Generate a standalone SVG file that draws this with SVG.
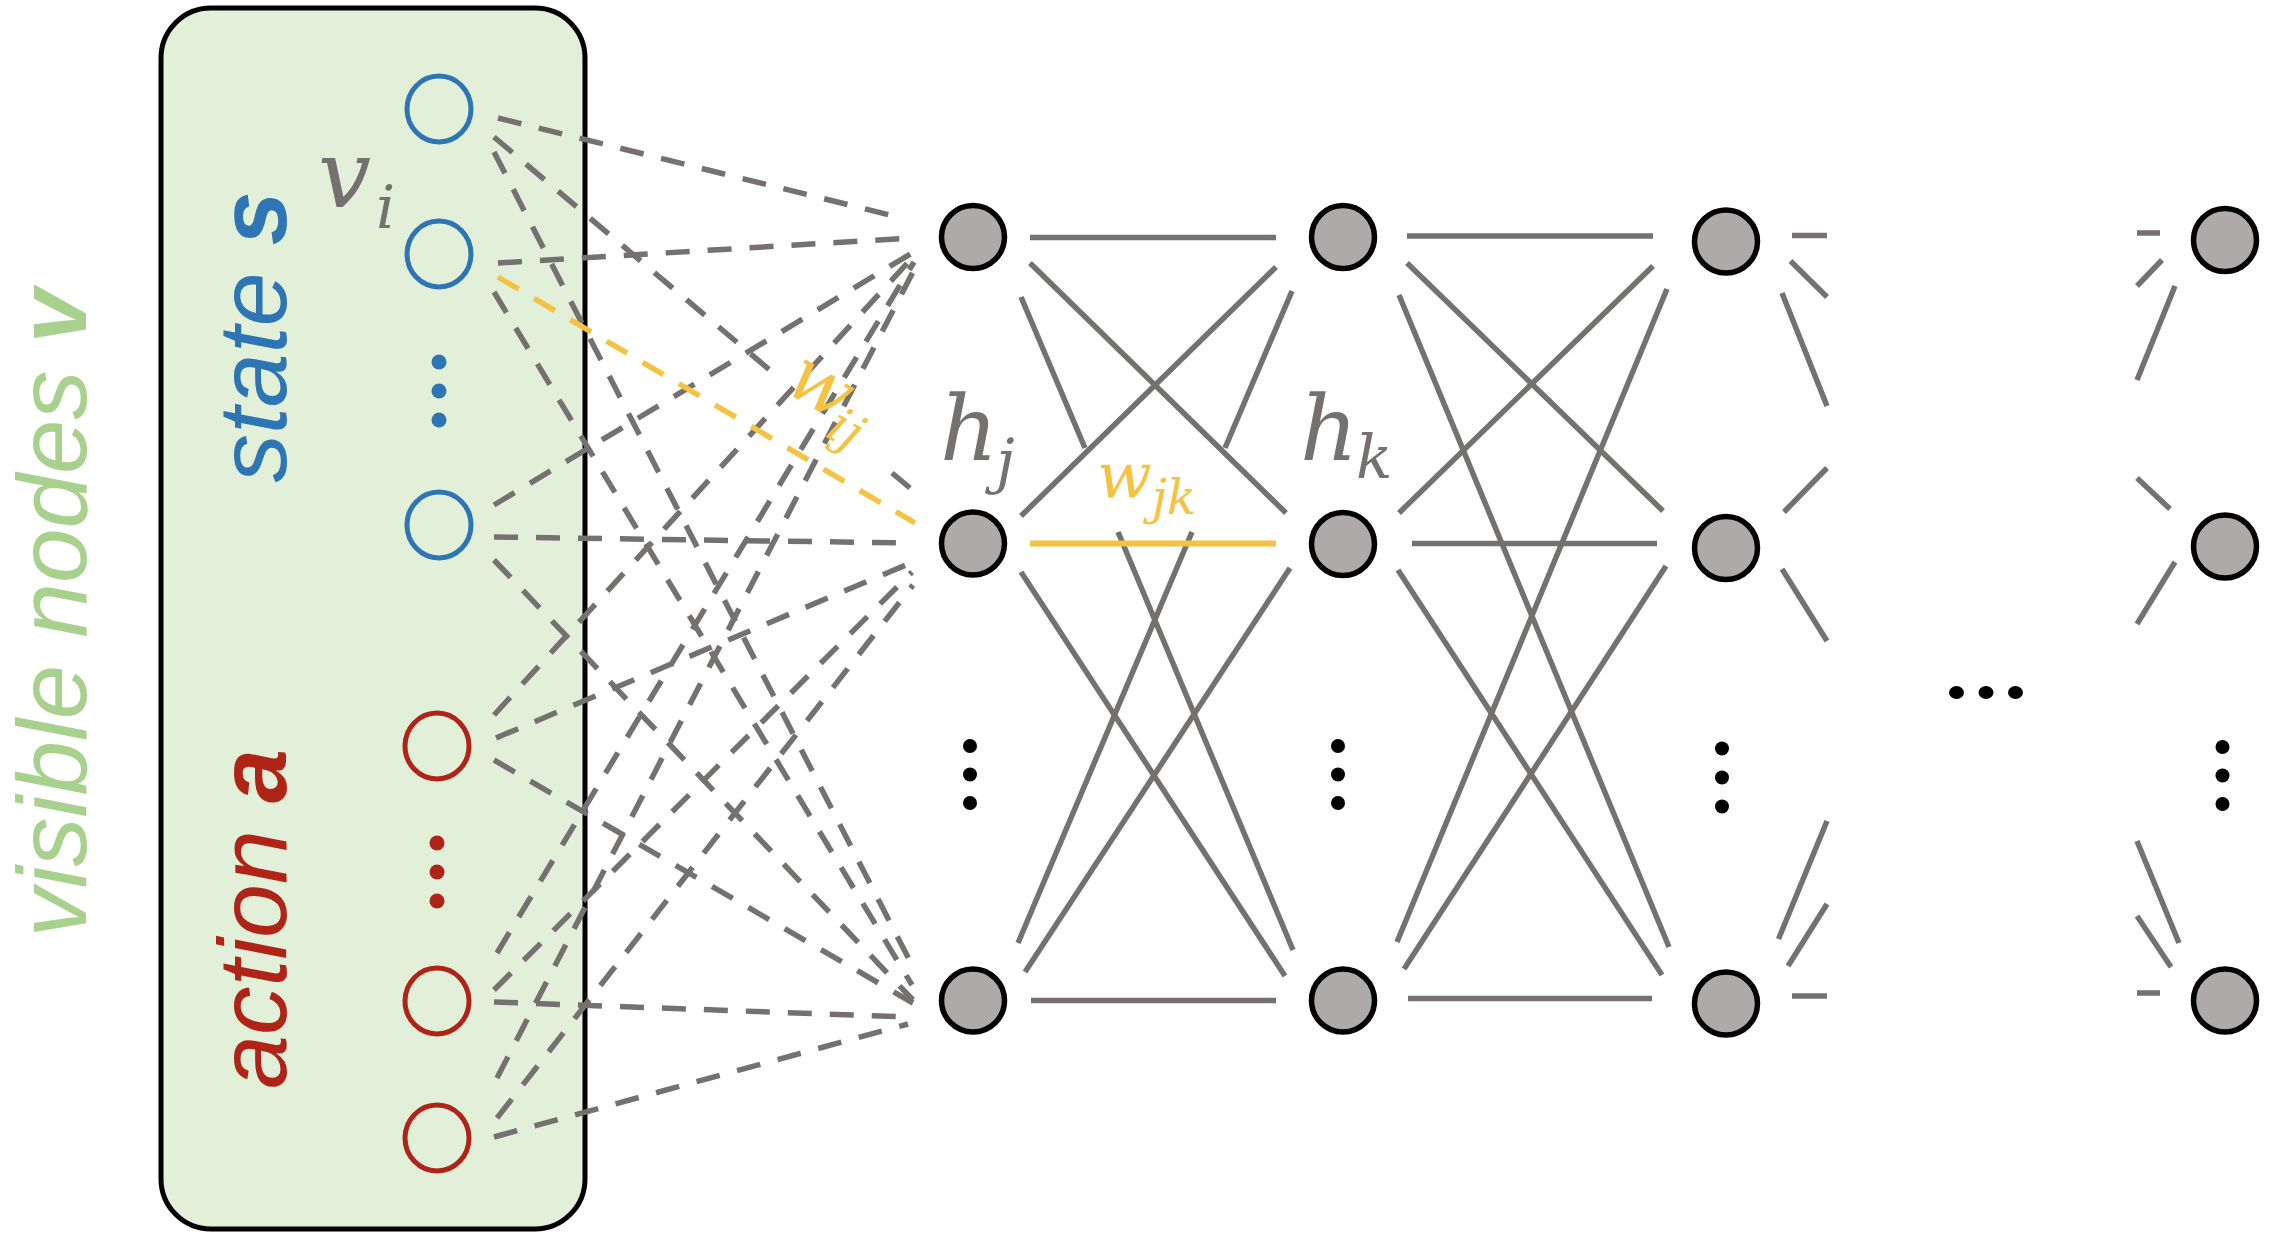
<svg xmlns="http://www.w3.org/2000/svg" width="2276" height="1238" viewBox="0 0 2276 1238">
<style>
.dash{stroke:#767171;stroke-width:5.5;stroke-dasharray:24 18;fill:none}
.ydash{stroke:#f5c242;stroke-width:5.5;stroke-dasharray:24 18;fill:none}
.solid{stroke:#767171;stroke-width:5.5;fill:none}
.ysolid{stroke:#f5c242;stroke-width:6;fill:none}
.hid{fill:#aeaaaa;stroke:#000;stroke-width:5.5}
.vs{fill:none;stroke:#2e75b6;stroke-width:5}
.va{fill:none;stroke:#b02418;stroke-width:5}
.math{font-family:"DejaVu Serif","Liberation Serif",serif;font-style:italic}
.lab{font-family:"Liberation Sans",Arial,sans-serif;font-style:italic}
</style>
<rect x="0" y="0" width="2276" height="1238" fill="#ffffff"/>
<g id="visible-box">
<rect x="161" y="8" width="424" height="1221" rx="50" fill="#e2efd9" stroke="#000" stroke-width="5"/>
</g>
<g id="label-visible">
<text class="lab" transform="translate(86,613) rotate(-90)" text-anchor="middle" font-size="98" fill="#a9d18e">visible nodes <tspan font-weight="bold">v</tspan></text>
</g>
<g id="label-state">
<text class="lab" transform="translate(286,337) rotate(-90)" text-anchor="middle" font-size="97" fill="#2e75b6">state <tspan font-weight="bold">s</tspan></text>
</g>
<g id="label-action">
<text class="lab" transform="translate(286,919) rotate(-90)" text-anchor="middle" font-size="97" fill="#b02418">action <tspan font-weight="bold">a</tspan></text>
</g>
<g id="connectors">
<line class="dash" x1="498" y1="118" x2="902" y2="218"/>
<line class="dash" x1="494" y1="137" x2="778" y2="377"/>
<line class="dash" x1="892" y1="473" x2="910" y2="488"/>
<line class="dash" x1="494" y1="152" x2="913" y2="967"/>
<line class="dash" x1="498" y1="263" x2="912" y2="238"/>
<line class="dash" x1="494" y1="292" x2="912" y2="985"/>
<line class="dash" x1="494" y1="505" x2="912" y2="253"/>
<line class="dash" x1="494" y1="537" x2="908" y2="543"/>
<line class="dash" x1="494" y1="560" x2="913" y2="1000"/>
<line class="dash" x1="494" y1="715" x2="912" y2="258"/>
<line class="dash" x1="496" y1="738" x2="913" y2="562"/>
<line class="dash" x1="494" y1="760" x2="913" y2="1003"/>
<line class="dash" x1="497" y1="953" x2="914" y2="262"/>
<line class="dash" x1="494" y1="990" x2="912" y2="572"/>
<line class="dash" x1="494" y1="1002" x2="908" y2="1017"/>
<line class="dash" x1="497" y1="1078" x2="915" y2="268"/>
<line class="dash" x1="497" y1="1118" x2="913" y2="585"/>
<line class="dash" x1="494" y1="1137" x2="908" y2="1024"/>
<line class="ydash" x1="498" y1="277" x2="915" y2="523"/>
<line class="solid" x1="1030" y1="237.5" x2="1276" y2="237.5"/>
<line class="solid" x1="1030" y1="263" x2="1286" y2="513"/>
<line class="solid" x1="1276" y1="267" x2="1021" y2="516"/>
<line class="solid" x1="1021" y1="297" x2="1085" y2="448"/>
<line class="solid" x1="1118" y1="532" x2="1293" y2="950"/>
<line class="solid" x1="1292" y1="291" x2="1225" y2="448"/>
<line class="solid" x1="1192" y1="532" x2="1018" y2="943"/>
<line class="solid" x1="1021" y1="572" x2="1285" y2="976"/>
<line class="solid" x1="1290" y1="568" x2="1025" y2="972"/>
<line class="solid" x1="1031" y1="1000.5" x2="1276" y2="1000.5"/>
<line class="ysolid" x1="1030" y1="543.5" x2="1276" y2="543.5"/>
<line class="solid" x1="1407" y1="236" x2="1653" y2="236"/>
<line class="solid" x1="1407" y1="263" x2="1663" y2="511"/>
<line class="solid" x1="1653" y1="266" x2="1399" y2="513"/>
<line class="solid" x1="1399" y1="295" x2="1669" y2="947"/>
<line class="solid" x1="1667" y1="289" x2="1397" y2="942"/>
<line class="solid" x1="1412" y1="543.5" x2="1657" y2="543.5"/>
<line class="solid" x1="1398" y1="570" x2="1662" y2="975"/>
<line class="solid" x1="1666" y1="566" x2="1404" y2="969"/>
<line class="solid" x1="1408" y1="998.5" x2="1652" y2="998.5"/>
<line class="solid" x1="1792" y1="235.5" x2="1827" y2="235.5"/>
<line class="solid" x1="1790.5" y1="261" x2="1827" y2="297"/>
<line class="solid" x1="1782" y1="293" x2="1827" y2="406"/>
<line class="solid" x1="1784" y1="512" x2="1827" y2="468"/>
<line class="solid" x1="1782" y1="569" x2="1827" y2="641"/>
<line class="solid" x1="1778.5" y1="939" x2="1827" y2="821"/>
<line class="solid" x1="1788" y1="966" x2="1827" y2="904"/>
<line class="solid" x1="1792" y1="996" x2="1827" y2="996"/>
<line class="solid" x1="2137" y1="233" x2="2160" y2="233"/>
<line class="solid" x1="2137" y1="286" x2="2162" y2="260"/>
<line class="solid" x1="2137" y1="380" x2="2175" y2="286"/>
<line class="solid" x1="2137" y1="478" x2="2170" y2="509"/>
<line class="solid" x1="2137" y1="624" x2="2175" y2="562"/>
<line class="solid" x1="2137" y1="841" x2="2179" y2="943"/>
<line class="solid" x1="2137" y1="916" x2="2171" y2="967"/>
<line class="solid" x1="2137" y1="993" x2="2160" y2="993"/>
</g>
<g id="visible-state-nodes">
<ellipse class="vs" cx="439" cy="109" rx="32" ry="33"/>
<ellipse class="vs" cx="439" cy="254" rx="32" ry="33"/>
<ellipse class="vs" cx="439" cy="525" rx="32" ry="33"/>
<circle cx="439" cy="362" r="7.5" fill="#2e75b6"/>
<circle cx="439" cy="391" r="7.5" fill="#2e75b6"/>
<circle cx="439" cy="420" r="7.5" fill="#2e75b6"/>
</g>
<g id="visible-action-nodes">
<ellipse class="va" cx="437" cy="746" rx="32" ry="33"/>
<ellipse class="va" cx="437" cy="1001" rx="32" ry="33"/>
<ellipse class="va" cx="437" cy="1138" rx="32" ry="33"/>
<circle cx="437" cy="843" r="7.5" fill="#b02418"/>
<circle cx="437" cy="872" r="7.5" fill="#b02418"/>
<circle cx="437" cy="901" r="7.5" fill="#b02418"/>
</g>
<g id="hidden-layer-1">
<circle class="hid" cx="973" cy="237" r="31.5"/>
<circle class="hid" cx="973" cy="543.5" r="31.5"/>
<circle class="hid" cx="973" cy="1000.5" r="31.5"/>
<circle cx="970" cy="746" r="7"/><circle cx="970" cy="774.5" r="7"/><circle cx="970" cy="803" r="7"/>
</g>
<g id="hidden-layer-2">
<circle class="hid" cx="1343" cy="237" r="31.5"/>
<circle class="hid" cx="1343" cy="544" r="31.5"/>
<circle class="hid" cx="1343" cy="1000.5" r="31.5"/>
<circle cx="1338" cy="746" r="7"/><circle cx="1338" cy="774.5" r="7"/><circle cx="1338" cy="803" r="7"/>
</g>
<g id="hidden-layer-3">
<circle class="hid" cx="1726" cy="241.5" r="31.5"/>
<circle class="hid" cx="1726" cy="548" r="31.5"/>
<circle class="hid" cx="1726" cy="1003.5" r="31.5"/>
<circle cx="1722" cy="748.5" r="7"/><circle cx="1722" cy="777.5" r="7"/><circle cx="1722" cy="806.5" r="7"/>
</g>
<g id="hidden-layer-n">
<circle class="hid" cx="2225" cy="240" r="31.5"/>
<circle class="hid" cx="2225" cy="546.5" r="31.5"/>
<circle class="hid" cx="2225" cy="1000.5" r="31.5"/>
<circle cx="2222.5" cy="747" r="7"/><circle cx="2222.5" cy="775.5" r="7"/><circle cx="2222.5" cy="804" r="7"/>
</g>
<g id="ellipsis-layers">
<ellipse cx="1956.5" cy="692.5" rx="7.5" ry="6.5"/>
<ellipse cx="1986" cy="692.5" rx="7.5" ry="6.5"/>
<ellipse cx="2015.5" cy="692.5" rx="7.5" ry="6.5"/>
</g>
<g id="label-vi">
<text class="math" x="318" y="207" font-size="94" fill="#767171">v<tspan x="376" y="228" font-size="60">i</tspan></text>
</g>
<g id="label-hj">
<text class="math" x="940" y="460" font-size="90" fill="#767171">h<tspan x="996" y="482" font-size="60">j</tspan></text>
</g>
<g id="label-hk">
<text class="math" x="1300" y="460" font-size="90" fill="#767171">h<tspan x="1356" y="478" font-size="60">k</tspan></text>
</g>
<g id="label-wij">
<text class="math" transform="translate(782,390) rotate(30.6)" font-size="74" fill="#f5c242">w<tspan x="59" y="18" font-size="50">ij</tspan></text>
</g>
<g id="label-wjk">
<text class="math" x="1097" y="498" font-size="64" fill="#f5c242">w<tspan x="1152" y="514" font-size="48">jk</tspan></text>
</g>
</svg>
